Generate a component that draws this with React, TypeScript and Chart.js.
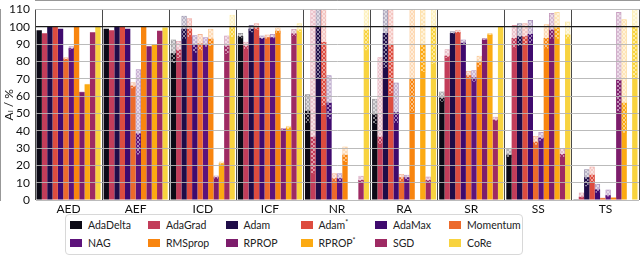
import React, { useEffect, useRef } from 'react';
import { Chart, registerables } from 'chart.js';
Chart.register(...registerables);

const categories = ['AED', 'AEF', 'ICD', 'ICF', 'NR', 'RA', 'SR', 'SS', 'TS'];
const optimizers = ['AdaDelta', 'AdaGrad', 'Adam', 'Adam*', 'AdaMax', 'Momentum', 'NAG', 'RMSprop', 'RPROP', 'RPROP*', 'SGD', 'CoRe'];
const colors = ['#0c0a16', '#c23d5a', '#1f0c48', '#dd4c3f', '#3f0a6e', '#ec6a2c', '#5d137b', '#f8850f', '#7d1d6c', '#fcaa12', '#9e2a63', '#f8d33f'];
const yTicks = [0, 10, 20, 30, 40, 50, 60, 70, 80, 90, 100, 110];

// mean accuracy per optimizer, categories in order AED..TS
const adaDeltaMean = [98, 98.9, 84.8, 94.6, 51.5, 49.5, 59, 26.2, 0.4];
const adaDeltaLow = [98, 98.9, 78.7, 93, 44, 43.5, 56.2, 24.3, 0.4];
const adaDeltaHigh = [98, 98.9, 92.7, 96.4, 61, 58.5, 62.7, 30, 0.4];

const adaGradMean = [96.3, 98, 86.7, 89, 36.5, 36.5, 83.3, 93.6, 1.9];
const adaGradLow = [96.3, 98, 81.5, 86.7, 15, 32, 81.5, 87.6, 1];
const adaGradHigh = [96.3, 98, 91.8, 91.4, 112, 82.4, 87.1, 101, 4.3];

const adamMean = [100, 100, 98.9, 98.9, 100, 96.4, 96.4, 94.6, 13.1];
const adamLow = [100, 100, 92.7, 96.4, 70, 75.8, 95.5, 88.4, 7.5];
const adamHigh = [100, 100, 106.4, 101, 115, 115, 97.4, 102, 17.8];

const adamStarMean = [100, 100, 98.9, 99.6, 91.2, 89.9, 97, 94.6, 14.6];
const adamStarLow = [100, 100, 93.6, 97.8, 54, 60.9, 95.9, 89, 9.7];
const adamStarHigh = [100, 100, 104.9, 102, 115, 115, 98.3, 102, 19.3];

const adaMaxMean = [98.9, 98.9, 89.9, 93.6, 56.2, 50.6, 90.8, 95.9, 6];
const adaMaxLow = [98.9, 98.9, 84.6, 92.5, 46.4, 44, 89.5, 90.3, 3.7];
const adaMaxHigh = [98.9, 98.9, 95.1, 95, 72.1, 67.8, 92.7, 104, 9.4];

const momentumMean = [81.5, 66, 90.4, 94, 12.5, 13.1, 72.1, 33.7, 1];
const momentumLow = [80.5, 64, 86, 92.7, 10.3, 10.3, 70.2, 31.5, 0.5];
const momentumHigh = [82.5, 68, 95.8, 95.5, 15.4, 15, 74.5, 37, 1.5];

const nagMean = [87.6, 38.4, 89.9, 94, 12.5, 13.1, 70.8, 36, 2.8];
const nagLow = [86.5, 25.8, 88, 93, 10.3, 11, 67.8, 33.7, 1.5];
const nagHigh = [88.8, 75.5, 94, 95.9, 15.4, 14.6, 74.9, 39.3, 6];

const rmspropMean = [100, 100, 93.1, 97.8, 26.2, 70.2, 79.6, 93.6, 1.3];
const rmspropLow = [100, 100, 88.4, 95.9, 21.5, 50.6, 76.4, 87, 1];
const rmspropHigh = [100, 100, 98.9, 99.6, 30.9, 115, 83.3, 101.5, 1.6];

const rpropMean = [62.2, 88.6, 13.1, 40.8, 0, 0, 92.7, 98.3, 69.3];
const rpropLow = [61.8, 88.2, 11.8, 40, 0, 0, 92.1, 92.7, 50.6];
const rpropHigh = [62.6, 89, 14.2, 41.6, 0, 0, 93.6, 108, 108.6];

const rpropStarMean = [66.7, 89.7, 21.2, 41.8, 0, 89.9, 95.5, 99.6, 56.2];
const rpropStarLow = [66.3, 89.3, 20, 40.6, 0, 73.4, 94.9, 92.7, 38.4];
const rpropStarHigh = [67.1, 90.1, 22.3, 42.9, 0, 115, 96.4, 108.6, 104.3];

const sgdMean = [96.8, 97.8, 89, 96.1, 11.6, 11.6, 46.4, 26.6, 0];
const sgdLow = [96.8, 97.8, 84, 94.2, 9.7, 10, 45.3, 24.3, 0];
const sgdHigh = [96.8, 97.8, 95, 98.7, 14, 13.5, 48.1, 30, 0];

const coreMean = [100, 99.6, 100, 98.5, 98.3, 100, 100, 95.5, 100];
const coreLow = [100, 99.6, 93.6, 96.5, 86, 78, 100, 92.7, 70];
const coreHigh = [100, 99.6, 107, 102, 112, 112, 100, 103, 112];

const means = [adaDeltaMean, adaGradMean, adamMean, adamStarMean, adaMaxMean, momentumMean, nagMean, rmspropMean, rpropMean, rpropStarMean, sgdMean, coreMean];
const lows = [adaDeltaLow, adaGradLow, adamLow, adamStarLow, adaMaxLow, momentumLow, nagLow, rmspropLow, rpropLow, rpropStarLow, sgdLow, coreLow];
const highs = [adaDeltaHigh, adaGradHigh, adamHigh, adamStarHigh, adaMaxHigh, momentumHigh, nagHigh, rmspropHigh, rpropHigh, rpropStarHigh, sgdHigh, coreHigh];

const FONT = 'Lato, "DejaVu Sans", sans-serif';

function rgb(hex: string) {
  const n = parseInt(hex.slice(1), 16);
  return [(n >> 16) & 255, (n >> 8) & 255, n & 255];
}

function makePattern(hex: string) {
  const c = document.createElement('canvas');
  c.width = 4;
  c.height = 4;
  const g = c.getContext('2d')!;
  const [r, gg, b] = rgb(hex);
  g.fillStyle = `rgba(${r},${gg},${b},0.3)`;
  g.fillRect(0, 0, 4, 4);
  g.fillStyle = 'rgba(255,255,255,0.5)';
  const pts = [[0, 0], [1, 1], [2, 2], [3, 3], [3, 0], [2, 1], [1, 2], [0, 3]];
  for (const [x, y] of pts) g.fillRect(x, y, 1, 1);
  return g.createPattern(c, 'repeat');
}

const legendCols = [5, 83, 160.5, 235.5, 310, 384];

function LegendLabel({ name }: { name: string }) {
  if (name.endsWith('*')) {
    return (
      <span>
        {name.slice(0, -1)}
        <sup style={{ fontSize: '7px', verticalAlign: '4px', lineHeight: 0 }}>*</sup>
      </span>
    );
  }
  return <span>{name}</span>;
}

export default function App() {
  const ref = useRef<HTMLCanvasElement>(null);

  useEffect(() => {
    const datasets: any[] = [];
    optimizers.forEach((name, i) => {
      const [r, g, b] = rgb(colors[i]);
      datasets.push({
        label: name,
        data: means[i],
        backgroundColor: colors[i],
        borderWidth: 0,
        stack: 's' + i,
        order: 2,
      });
      datasets.push({
        label: name + ' range',
        data: lows[i].map((lo, j) => (highs[i][j] - lo > 0.05 ? [lo, highs[i][j]] : null)),
        backgroundColor: makePattern(colors[i]),
        borderColor: `rgba(${r},${g},${b},0.5)`,
        borderWidth: 0.8,
        borderSkipped: false,
        stack: 's' + i,
        order: 1,
      });
    });

    const chart = new Chart(ref.current!, {
      type: 'bar',
      data: { labels: categories, datasets },
      options: {
        responsive: false,
        animation: false,
        layout: { padding: { top: 4, right: 1, left: 0, bottom: 0 } },
        plugins: { legend: { display: false }, tooltip: { enabled: false } },
        datasets: { bar: { barPercentage: 1, categoryPercentage: 0.955 } },
        scales: {
          x: {
            type: 'category',
            grid: { offset: true, color: '#4a4a4a', lineWidth: 1, drawTicks: false, z: 1 },
            border: { color: '#333' },
            ticks: { padding: 2, color: '#111', font: { family: FONT, size: 12 } },
            afterFit: (s: any) => {
              s.height = 13;
            },
          },
          y: {
            type: 'linear',
            min: 0,
            max: 110,
            stacked: false,
            afterBuildTicks: (s: any) => {
              s.ticks = yTicks.map((v) => ({ value: v }));
            },
            ticks: { padding: 5, color: '#111', font: { family: FONT, size: 12, lineHeight: 0.75 } },
            grid: {
              z: 1,
              drawTicks: false,
              color: (ctx: any) => (ctx.tick && ctx.tick.value === 100 ? '#1a1a1a' : 'rgba(180,180,180,0.9)'),
              lineWidth: (ctx: any) => (ctx.tick && ctx.tick.value === 100 ? 1.2 : 1),
            },
            border: { color: '#333' },
            title: { display: true, text: 'Aₗ / %', color: '#111', padding: { top: 2, bottom: 0 }, font: { family: FONT, size: 12 } },
            afterFit: (s: any) => {
              s.width = 35;
            },
          },
        },
      } as any,
    });
    return () => chart.destroy();
  }, []);

  return (
    <div style={{ position: 'fixed', left: 0, top: 0, width: 640, height: 255, background: '#fff', overflow: 'hidden' }}>
      <canvas ref={ref} width={640} height={213} style={{ display: 'block' }} />
      <div
        style={{
          position: 'absolute',
          left: 65,
          top: 214,
          width: 458,
          height: 41,
          boxSizing: 'border-box',
          border: '1px solid #d8d8d8',
          borderRadius: 4,
          fontFamily: FONT,
          fontSize: '10.5px',
          color: '#222',
        }}
      >
        {optimizers.map((name, i) => {
          const col = i % 6;
          const row = Math.floor(i / 6);
          return (
            <div
              key={name}
              style={{
                position: 'absolute',
                left: legendCols[col] - 1,
                top: row === 0 ? 3 : 21,
                height: 14,
                display: 'flex',
                alignItems: 'center',
                whiteSpace: 'nowrap',
              }}
            >
              <span style={{ display: 'inline-block', width: 12, height: 8, background: colors[i], marginRight: 6 }} />
              <LegendLabel name={name} />
            </div>
          );
        })}
      </div>
    </div>
  );
}
